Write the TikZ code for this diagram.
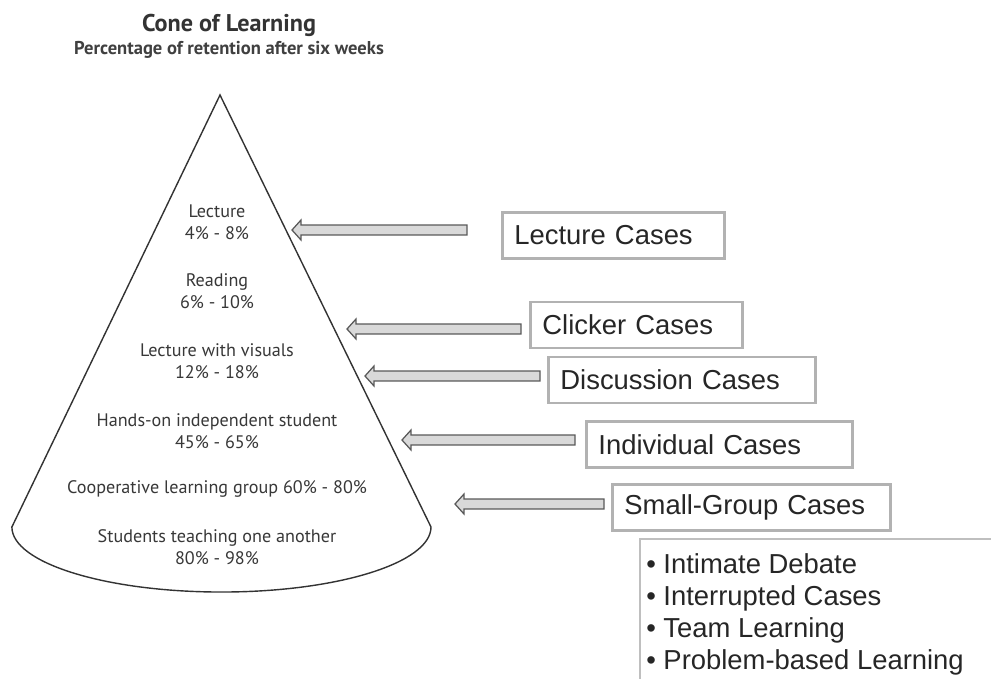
\documentclass[tikz,border=0pt]{standalone}
\usepackage{fontspec}
\setmainfont{Liberation Sans}
\newfontfamily\conefont{PT Sans}
\usetikzlibrary{calc}
\usetikzlibrary{positioning}

\begin{document}
\begin{tikzpicture}[x=0.025cm,y=-0.025cm,
  cone/.style={draw=black!80,line width=1pt,fill=white},
  cone text/.style={font=\conefont\fontsize{12.9}{15.6}\selectfont,text=black!78,align=center},
  case box/.style={draw=black!30,line width=2pt,anchor=west,align=left,
    minimum height=1.15cm,inner xsep=0.3cm,
    font=\fontsize{19.5}{22}\selectfont,text=black!85},
  list item/.style={anchor=base west,inner sep=0pt,font=\fontsize{19.5}{22}\selectfont,text=black!85},
  hollow arrow/.style={draw=black!65,fill=black!15,line width=0.9pt,line join=miter,
    to path={let \p1=(\tikztostart), \p2=(\tikztotarget) in
      (\x1,\y1+3.5pt) -- (\x2+6.4pt,\y1+3.5pt) -- (\x2+6.4pt,\y1+7.1pt) -- (\x2,\y1)
      -- (\x2+6.4pt,\y1-7.1pt) -- (\x2+6.4pt,\y1-3.5pt) -- (\x1,\y1-3.5pt) -- cycle}}]

  \useasboundingbox (0,0) rectangle (991,679);

  % heading
  \node[font=\conefont\bfseries\fontsize{17.2}{20}\selectfont,text=black!80] (title) at (229,25) {Cone of Learning};
  \node[font=\conefont\bfseries\fontsize{13.2}{15}\selectfont,text=black!75] (subtitle) at (229,50) {Percentage of retention after six weeks};

  % the cone
  \draw[cone] (220,95) -- (431,527) arc[start angle=0,end angle=-180,x radius=5.2375cm,y radius=1.625cm] -- cycle;

  \node[cone text] (lecture) at (217,222) {Lecture\\4\% - 8\%};
  \node[cone text] (reading) at (217,291.5) {Reading\\6\% - 10\%};
  \node[cone text] (visuals) at (217,361.5) {Lecture with visuals\\12\% - 18\%};
  \node[cone text] (handson) at (217,431.5) {Hands-on independent student\\45\% - 65\%};
  \node[cone text] (coop) at (217,489) {Cooperative learning group 60\% - 80\%};
  \node[cone text] (teach) at (217,547) {Students teaching one another\\80\% - 98\%};

  % case types
  \node[case box,text width=4.95cm] (lec) at (501,235.5) {Lecture Cases};
  \node[case box,text width=4.7cm] (clk) at (529,325) {Clicker Cases};
  \node[case box,text width=6.08cm] (dis) at (547,380) {Discussion Cases};
  \node[case box,text width=6.05cm] (ind) at (585,444.5) {Individual Cases};
  \node[case box,text width=6.35cm] (sgc) at (611,507.5) {Small-Group Cases};

  \coordinate (lecT) at (467,230);  \coordinate (lecH) at (292,230);
  \coordinate (clkT) at (521,329);  \coordinate (clkH) at (347,329);
  \coordinate (disT) at (540,376);  \coordinate (disH) at (365,376);
  \coordinate (indT) at (575,440);  \coordinate (indH) at (402,440);
  \coordinate (sgcT) at (604,504);  \coordinate (sgcH) at (455,504);

  \draw[hollow arrow] (lecT) to (lecH);
  \draw[hollow arrow] (clkT) to (clkH);
  \draw[hollow arrow] (disT) to (disH);
  \draw[hollow arrow] (indT) to (indH);
  \draw[hollow arrow] (sgcT) to (sgcH);

  % small-group formats
  \draw[draw=black!25,line width=0.8pt] (991,539) -- (640,539) -- (640,679);
  \node[list item] (debate) at (646,573) {• Intimate Debate};
  \node[list item] (interrupted) at (646,605) {• Interrupted Cases};
  \node[list item] (team) at (646,637) {• Team Learning};
  \node[list item] (pbl) at (646,669) {• Problem-based Learning};
\end{tikzpicture}
\end{document}
